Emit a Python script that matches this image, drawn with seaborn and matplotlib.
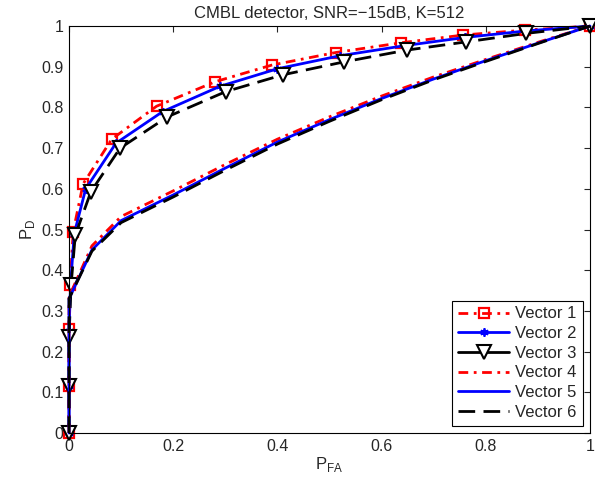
import numpy as np
import pandas as pd
import matplotlib
matplotlib.use("Agg")
import matplotlib.pyplot as plt
import seaborn as sns

sns.set_style("white")
plt.rcParams['font.family'] = ['Liberation Sans', 'DejaVu Sans']

# ROC points
pfa_1 = [0, 0, 0, 0.002, 0.008, 0.027, 0.082, 0.168, 0.28, 0.389, 0.512, 0.638, 0.757, 0.875, 1]
pd_1 = [0, 0.115, 0.255, 0.364, 0.495, 0.612, 0.722, 0.803, 0.863, 0.904, 0.935, 0.959, 0.978, 0.99, 1]
pfa_2 = [0, 0, 0, 0.003, 0.01, 0.032, 0.09, 0.18, 0.29, 0.4, 0.52, 0.645, 0.76, 0.877, 1]
pd_2 = [0, 0.116, 0.25, 0.365, 0.49, 0.6, 0.712, 0.79, 0.852, 0.895, 0.927, 0.952, 0.972, 0.988, 1]
pfa_3 = [0, 0, 0, 0.004, 0.012, 0.042, 0.098, 0.189, 0.301, 0.41, 0.528, 0.649, 0.762, 0.878, 1]
pd_3 = [0, 0.116, 0.237, 0.364, 0.486, 0.593, 0.70, 0.777, 0.839, 0.88, 0.912, 0.941, 0.961, 0.982, 1]

pfa_4 = [0, 0, 0.044, 0.1, 0.2, 0.3, 0.4, 0.5, 0.6, 0.7, 0.8, 0.9, 1]
pd_4 = [0, 0.335, 0.46, 0.532, 0.595, 0.66, 0.722, 0.777, 0.828, 0.875, 0.918, 0.96, 1]
pfa_5 = [0, 0, 0.044, 0.1, 0.2, 0.3, 0.4, 0.5, 0.6, 0.7, 0.8, 0.9, 1]
pd_5 = [0, 0.33, 0.45, 0.522, 0.585, 0.651, 0.715, 0.77, 0.822, 0.87, 0.915, 0.958, 1]
pfa_6 = [0, 0, 0.044, 0.1, 0.2, 0.3, 0.4, 0.5, 0.6, 0.7, 0.8, 0.9, 1]
pd_6 = [0, 0.33, 0.447, 0.517, 0.58, 0.646, 0.71, 0.766, 0.819, 0.868, 0.913, 0.957, 1]

labels = ['Vector 1', 'Vector 2', 'Vector 3', 'Vector 4', 'Vector 5', 'Vector 6']
curves = [(pfa_1, pd_1), (pfa_2, pd_2), (pfa_3, pd_3),
          (pfa_4, pd_4), (pfa_5, pd_5), (pfa_6, pd_6)]
dashdot = (0, (3.5, 2, 1, 2))
dashed = (0, (6, 3))
styles = [
    dict(color='red', linestyle=dashdot, marker='s', markersize=7.5, markerfacecolor='none',
         markeredgecolor='red', markeredgewidth=1.6),
    dict(color='blue', linestyle='-', marker=(6, 2, 0), markersize=6,
         markeredgecolor='blue', markeredgewidth=1.3),
    dict(color='black', linestyle=dashed, marker='v', markersize=10, markerfacecolor='white',
         markeredgecolor='black', markeredgewidth=1.5),
    dict(color='red', linestyle=dashdot),
    dict(color='blue', linestyle='-'),
    dict(color='black', linestyle=dashed),
]

fig = plt.figure(figsize=(5.95, 4.86), dpi=100)
ax = fig.add_axes([0.116, 0.109, 0.8756, 0.8374])

for lab, (x, y), st in zip(labels, curves, styles):
    df = pd.DataFrame({'pfa': x, 'pd': y})
    sns.lineplot(data=df, x='pfa', y='pd', ax=ax, sort=False, estimator=None,
                 linewidth=2, label=lab, clip_on=False, **st)

ax.set_xlim(0, 1)
ax.set_ylim(0, 1)
ax.set_xticks(np.arange(0, 1.01, 0.2))
ax.set_yticks(np.arange(0, 1.01, 0.1))
ax.set_xticklabels(['0', '0.2', '0.4', '0.6', '0.8', '1'])
ax.set_yticklabels(['0'] + [f'{v:.1f}' for v in np.arange(0.1, 0.95, 0.1)] + ['1'])
ax.tick_params(direction='in', top=True, right=True, length=4, labelsize=11.5,
               width=0.8, pad=4)
for s in ax.spines.values():
    s.set_color('black')
    s.set_linewidth(0.8)

ax.set_xlabel(r'P$_{\mathregular{FA}}$', fontsize=12, labelpad=1)
ax.set_ylabel(r'P$_{\mathregular{D}}$', fontsize=12, labelpad=3)
ax.set_title('CMBL detector, SNR=\u221215dB, K=512', fontsize=12, pad=6)

leg = ax.legend(loc='lower right', fontsize=12, frameon=True, fancybox=False,
                edgecolor='black', framealpha=1, handlelength=3.1,
                borderaxespad=0.45, labelspacing=0.28, handletextpad=0.35,
                borderpad=0.35)
leg.get_frame().set_linewidth(0.8)
# the marked vector 3 curve is dashed in the plot, solid in the legend
leg.get_lines()[2].set_linestyle('-')

fig.savefig('out.png', dpi=100)
